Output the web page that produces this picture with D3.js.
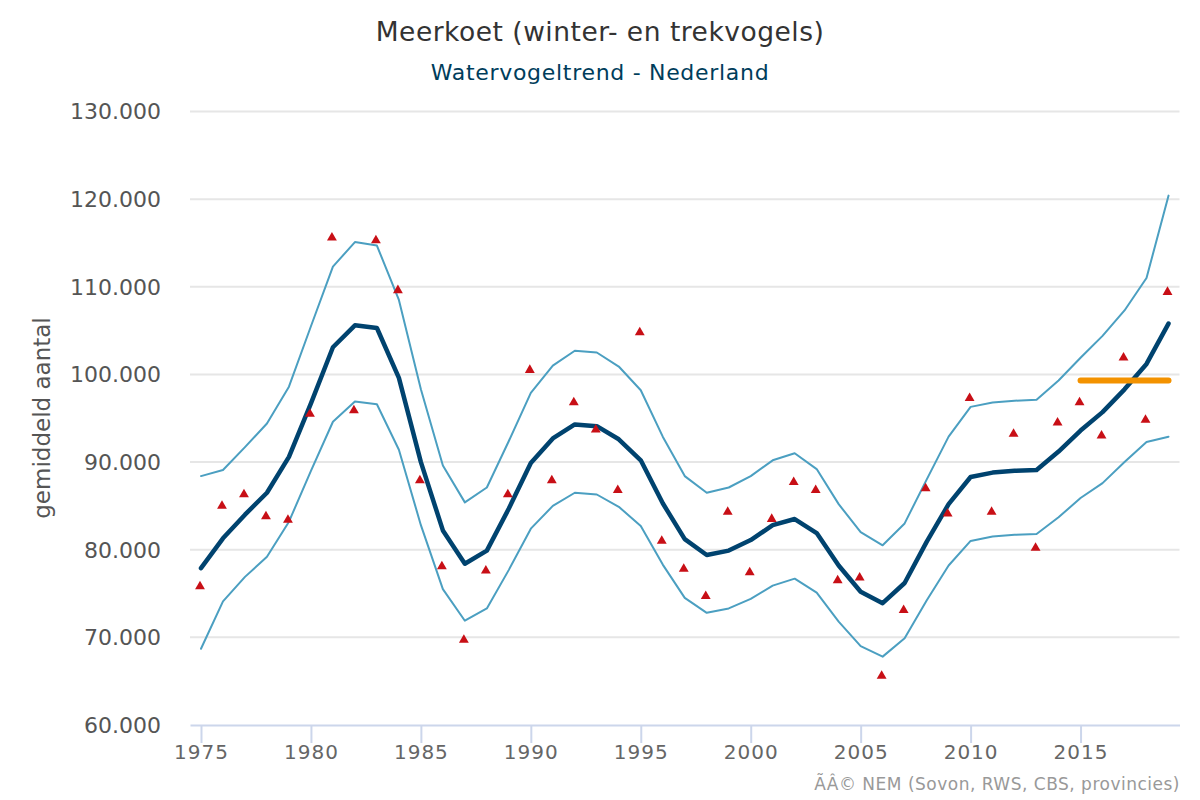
<!DOCTYPE html>
<html>
<head>
<meta charset="utf-8">
<script src="https://cdn.jsdelivr.net/npm/d3@7"></script>
<style>
  body { margin: 0; background: #fff; }
  text { font-family: "DejaVu Sans", sans-serif; }
</style>
</head>
<body>
<svg id="chart" width="1200" height="800"></svg>
<script>
var years = d3.range(1975, 2020);
var yTicks = [60000, 70000, 80000, 90000, 100000, 110000, 120000, 130000];
var xTicks = [1975, 1980, 1985, 1990, 1995, 2000, 2005, 2010, 2015];

var trend = [77900, 81300, 84000, 86500, 90600, 96700, 103100, 105600, 105300, 99600,
  90000, 82200, 78400, 79900, 84700, 89900, 92700, 94300, 94100, 92600,
  90200, 85300, 81200, 79400, 79900, 81100, 82800, 83500, 81900, 78200,
  75200, 73900, 76200, 80900, 85200, 88300, 88800, 89000, 89100, 91200,
  93600, 95700, 98300, 101200, 105800];
var upper = [88400, 89100, 91700, 94400, 98600, 105500, 112300, 115100, 114700, 108500,
  98300, 89600, 85400, 87100, 92400, 97900, 101000, 102700, 102500, 100900,
  98200, 92900, 88400, 86500, 87100, 88400, 90200, 91000, 89200, 85200,
  82000, 80500, 83000, 88000, 92900, 96300, 96800, 97000, 97100, 99300,
  101900, 104400, 107300, 111000, 120400];
var lower = [68700, 74100, 76900, 79200, 83200, 89000, 94600, 96900, 96600, 91400,
  82800, 75500, 71900, 73300, 77700, 82400, 85000, 86500, 86300, 84900,
  82700, 78300, 74500, 72800, 73300, 74400, 75900, 76700, 75100, 71800,
  69000, 67800, 69900, 74200, 78200, 81000, 81500, 81700, 81800, 83700,
  85900, 87600, 90000, 92300, 92900];
var observed = [75800, 85000, 86300, 83800, 83400, 95500, 115600, 95900, 115300, 109600,
  87900, 78100, 69700, 77600, 86300, 100500, 87900, 96800, 93700, 86800,
  104800, 81000, 77800, 74700, 84300, 77400, 83500, 87700, 86800, 76500,
  76800, 65600, 73100, 87000, 84100, 97300, 84300, 93200, 80200, 94500,
  96800, 93000, 101900, 94800, 109400];
var baselineYears = [2015, 2019];
var baseline = [99300, 99300];

var svg = d3.select("#chart");

var x = d3.scaleLinear().domain([1974.5, 2019.5]).range([190, 1179.5]);
var y = d3.scaleLinear().domain([60000, 130000]).range([725, 111.5]);

function dots(v) {
  return d3.format(",")(v).replace(/,/g, ".");
}

// grid lines
svg.append("g").selectAll("line").data(yTicks.slice(1)).enter().append("line")
  .attr("x1", x.range()[0]).attr("x2", x.range()[1])
  .attr("y1", function(d){ return y(d); }).attr("y2", function(d){ return y(d); })
  .attr("stroke", "#e6e6e6").attr("stroke-width", 2);

// axes
var xAxis = svg.append("g").attr("transform", "translate(0,725)")
  .call(d3.axisBottom(x).tickValues(xTicks).tickFormat(d3.format("d")).tickSizeInner(18).tickSizeOuter(0));
xAxis.select(".domain").attr("stroke", "#ccd6eb").attr("stroke-width", 2);
xAxis.selectAll("line").attr("stroke", "#ccd6eb").attr("stroke-width", 2);
xAxis.selectAll("text").attr("font-size", 20).attr("letter-spacing", 1).attr("fill", "#666")
  .attr("y", 20).attr("dy", "0.71em");

var yAxis = svg.append("g").attr("transform", "translate(161,0)")
  .call(d3.axisLeft(y).tickValues(yTicks).tickFormat(dots).tickSize(0).tickPadding(0));
yAxis.select(".domain").remove();
yAxis.selectAll("text").attr("font-size", 22).attr("fill", "#555").attr("dy", "0.34em");

var line = d3.line().x(function(d){ return x(d[0]); }).y(function(d){ return y(d[1]); });

function drawLine(xs, vs, color, width) {
  svg.append("path")
    .attr("d", line(d3.zip(xs, vs)))
    .attr("fill", "none").attr("stroke", color).attr("stroke-width", width)
    .attr("stroke-linecap", "round").attr("stroke-linejoin", "round");
}

drawLine(years, upper, "#4b9fc1", 2);
drawLine(years, lower, "#4b9fc1", 2);
drawLine(years, trend, "#00436f", 4.5);
drawLine(baselineYears, baseline, "#f39200", 6);

// observed counts, red triangles
svg.append("g").selectAll("path").data(observed).enter().append("path")
  .attr("d", d3.symbol().type(d3.symbolTriangle).size(42))
  .attr("transform", function(d, i){ return "translate(" + (x(years[i]) - 1) + "," + y(d) + ")"; })
  .attr("fill", "#c80f16");

// titles
svg.append("text").attr("x", 600).attr("y", 41).attr("text-anchor", "middle")
  .attr("font-size", 26.5).attr("letter-spacing", 0.5).attr("fill", "#333").text("Meerkoet (winter- en trekvogels)");
svg.append("text").attr("x", 600).attr("y", 80).attr("text-anchor", "middle")
  .attr("font-size", 22).attr("letter-spacing", 0.7).attr("fill", "#003d5b").text("Watervogeltrend - Nederland");
svg.append("text").attr("transform", "translate(50,418) rotate(-90)").attr("text-anchor", "middle")
  .attr("font-size", 23).attr("fill", "#555").text("gemiddeld aantal");
svg.append("text").attr("x", 1180).attr("y", 790).attr("text-anchor", "end")
  .attr("font-size", 17).attr("letter-spacing", 0.5).attr("fill", "#999").text("ÃÂ© NEM (Sovon, RWS, CBS, provincies)");
</script>
</body>
</html>
